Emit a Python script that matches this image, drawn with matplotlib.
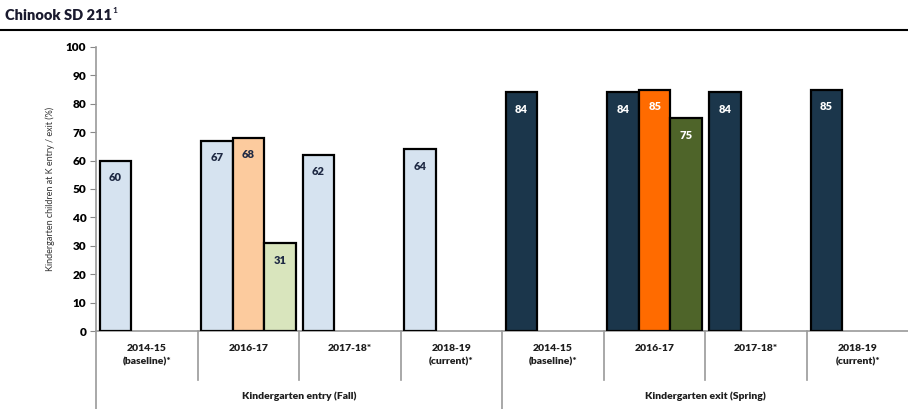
import matplotlib.pyplot as plt
import matplotlib.transforms as mtransforms
from matplotlib.lines import Line2D

plt.rcParams['font.family'] = ['Lato', 'DejaVu Sans']

# data
years = ["2014-15\n(baseline)*", "2016-17", "2017-18*", "2018-19\n(current)*"]
groups = ["Kindergarten entry (Fall)", "Kindergarten exit (Spring)"]
district_entry = [60, 67, 62, 64]
district_exit = [84, 84, 84, 85]
extra_a = [68, 85]   # second bar in 2016-17 (entry, exit)
extra_b = [31, 75]   # third bar in 2016-17 (entry, exit)

light = ["#d6e3f0", "#fccb9e", "#d9e5bd"]
dark = ["#1b364b", "#ff6b00", "#4e6429"]

fig = plt.figure(figsize=(9.08, 4.09), dpi=100)
ax = fig.add_axes([0.1057, 0.1907, 0.895, 0.6944])

w = 0.31
for g, (vals, cols, tcol) in enumerate([(district_entry, light, "#1f2a44"),
                                        (district_exit, dark, "white")]):
    for i, v in enumerate(vals):
        xc = g * 4 + i
        bars = [(xc - w, v, cols[0])]
        if i == 1:
            bars.append((xc, extra_a[g], cols[1]))
            bars.append((xc + w, extra_b[g], cols[2]))
        for x, h, c in bars:
            ax.bar(x, h, width=w, color=c, edgecolor="black", linewidth=1.6, zorder=3)
            ax.text(x, h - 6, f"{h}", ha="center", va="center", fontsize=8,
                    fontweight="heavy", color=tcol, zorder=4)

ax.set_xlim(-0.5, 7.5)
ax.set_ylim(0, 100)
ax.set_yticks(range(0, 101, 10))
ax.tick_params(axis="y", length=4, color="#888888", labelsize=8.5, pad=3)
for lbl in ax.get_yticklabels():
    lbl.set_fontweight("heavy")
ax.set_xticks([])
for s in ["top", "right"]:
    ax.spines[s].set_visible(False)
for s in ["left", "bottom"]:
    ax.spines[s].set_color("#999999")
    ax.spines[s].set_linewidth(1.2)

ax.set_ylabel("Kindergarten children at K entry / exit (%)", fontsize=6.5,
              color="#333333", labelpad=8)

# two-level category axis
trans = mtransforms.blended_transform_factory(ax.transData, ax.transAxes)
for k in range(9):
    xb = k - 0.5
    y_end = -0.275 if k % 4 == 0 else -0.1725
    ax.add_line(Line2D([xb, xb], [0, y_end], transform=trans, color="#999999",
                       linewidth=1.2, clip_on=False))
for g in range(2):
    for i, lab in enumerate(years):
        ax.text(g * 4 + i, -0.045, lab, transform=trans, ha="center", va="top",
                fontsize=7.5, fontweight="heavy", color="#1f1f1f", linespacing=1.6)
    ax.text(g * 4 + 1.5, -0.23, groups[g], transform=trans, ha="center",
            va="center", fontsize=7.5, fontweight="heavy", color="#1f1f1f")

# header
title = fig.text(0.005, 0.962, "Chinook SD 211", fontsize=10.5,
                 fontweight="heavy", color="#1a1a2e", va="center")
fig.canvas.draw()
bb = title.get_window_extent().transformed(fig.transFigure.inverted())
fig.text(bb.x1 + 0.001, 0.975, "1", fontsize=6, fontweight="bold",
         color="#1a1a2e", va="center")
fig.add_artist(Line2D([0, 1], [0.927, 0.927], transform=fig.transFigure,
                      color="black", linewidth=1.5))

fig.savefig("out.png", dpi=100)
